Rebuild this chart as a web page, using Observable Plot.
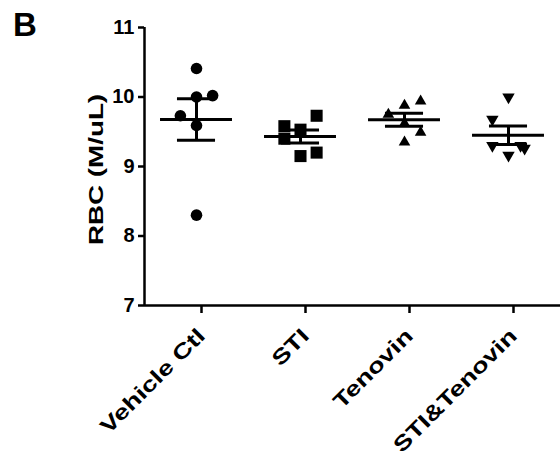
<!DOCTYPE html>
<html>
<head>
<meta charset="utf-8">
<script src="https://cdn.jsdelivr.net/npm/d3@7"></script>
<script src="https://cdn.jsdelivr.net/npm/@observablehq/plot@0.6"></script>
<style>
  body { margin: 0; background: #fff; }
  #wrap { position: relative; width: 560px; height: 456px; }
  svg text { font-family: Arial, "Liberation Sans", sans-serif; font-weight: bold; }
  #panel { position: absolute; left: 0; top: 0; }
</style>
</head>
<body>
<div id="wrap"></div>
<script>
const categories = ["Vehicle Ctl", "STI", "Tenovin", "STI&Tenovin"];
const vehicleCtl = [10.41, 10.00, 10.02, 9.73, 9.59, 8.30];
const vehicleJitter = [0, 0, 1, -1, 0, 0];
const sti = [9.73, 9.58, 9.40, 9.53, 9.15, 9.20];
const stiJitter = [1, -1, -1, 0, 0, 1];
const tenovin = [9.88, 9.94, 9.75, 9.62, 9.49, 9.35];
const tenovinJitter = [0, 1, -1, 0, 1, 0];
const stiTenovin = [10.00, 9.68, 9.30, 9.30, 9.26, 9.16];
const stiTenovinJitter = [0, -1, -1, 0.75, 1, 0];
const yTicks = [7, 8, 9, 10, 11];
const yLabel = "RBC (M/uL)";
const panelLabel = "B";

const seriesValues = [vehicleCtl, sti, tenovin, stiTenovin];
const seriesJitter = [vehicleJitter, stiJitter, tenovinJitter, stiTenovinJitter];
const jitterStep = 0.155;

const groups = seriesValues.map((vals, i) =>
  vals.map((v, k) => ({g: i, x: i + seriesJitter[i][k] * jitterStep, v})));
const stats = seriesValues.map((vals, i) => {
  const m = d3.mean(vals);
  const se = d3.deviation(vals) / Math.sqrt(vals.length);
  return {i, m, lo: m - se, hi: m + se};
});

const triangleDown = {
  draw(context, size) {
    const y = -Math.sqrt(size / (Math.sqrt(3) * 3));
    context.moveTo(0, -y * 2);
    context.lineTo(-Math.sqrt(3) * y, y);
    context.lineTo(Math.sqrt(3) * y, y);
    context.closePath();
  }
};
const symbols = ["circle", "square", "triangle", triangleDown];
const radii = [5.8, 6.8, 4.3, 4.6];

const meanHalf = 0.346, capHalf = 0.183;

const plot = Plot.plot({
  width: 560,
  height: 456,
  marginLeft: 144,
  marginRight: 0,
  marginTop: 27,
  marginBottom: 151,
  x: {domain: [-0.5, 3.5]},
  y: {domain: [7, 11]},
  marks: [
    Plot.axisY({ticks: yTicks, tickFormat: d => String(d), tickSize: 6, tickPadding: 4, strokeWidth: 2.5,
      fontSize: 20, label: null}),
    Plot.axisX({ticks: [0, 1, 2, 3], tickFormat: i => categories[i], tickSize: 8, tickPadding: 19, dx: 5,
      tickRotate: -45, strokeWidth: 2.5, fontSize: 21, label: null}),
    Plot.ruleY([7], {stroke: "black", strokeWidth: 2.5}),
    Plot.ruleX([-0.5], {stroke: "black", strokeWidth: 2.5}),
    ...groups.map((rs, i) => Plot.dot(rs, {x: "x", y: "v", symbol: symbols[i], r: radii[i], fill: "black", stroke: "none"})),
    Plot.ruleX(stats, {x: "i", y1: "lo", y2: "hi", stroke: "black", strokeWidth: 3}),
    Plot.ruleY(stats, {y: "lo", x1: d => d.i - capHalf, x2: d => d.i + capHalf, stroke: "black", strokeWidth: 3}),
    Plot.ruleY(stats, {y: "hi", x1: d => d.i - capHalf, x2: d => d.i + capHalf, stroke: "black", strokeWidth: 3}),
    Plot.ruleY(stats, {y: "m", x1: d => d.i - meanHalf, x2: d => d.i + meanHalf, stroke: "black", strokeWidth: 3}),
    Plot.text([yLabel], {text: d => d, frameAnchor: "left", rotate: -90, dx: -42, dy: 3,
      textAnchor: "middle", lineAnchor: "bottom", fontSize: 20, fill: "black"})
  ]
});
document.getElementById("wrap").appendChild(plot);

const yTickText = new Set(yTicks.map(String));
plot.querySelectorAll("text").forEach(t => {
  const s = t.textContent;
  if (yTickText.has(s)) {
    t.setAttribute("font-size", "20");
    t.style.fontSize = "20px";
  } else if (categories.includes(s)) {
    t.style.fontSize = "21px";
    t.setAttribute("transform", (t.getAttribute("transform") || "") + " scale(1.3,1)");
  } else if (s === yLabel) {
    t.setAttribute("transform", (t.getAttribute("transform") || "") + " scale(1.39,1)");
  }
});

const ns = "http://www.w3.org/2000/svg";
const panel = document.createElementNS(ns, "svg");
panel.setAttribute("id", "panel");
panel.setAttribute("width", "60");
panel.setAttribute("height", "60");
const pt = document.createElementNS(ns, "text");
pt.setAttribute("x", "13");
pt.setAttribute("y", "36");
pt.setAttribute("font-size", "33");
pt.textContent = panelLabel;
panel.appendChild(pt);
document.getElementById("wrap").appendChild(panel);
</script>
</body>
</html>
